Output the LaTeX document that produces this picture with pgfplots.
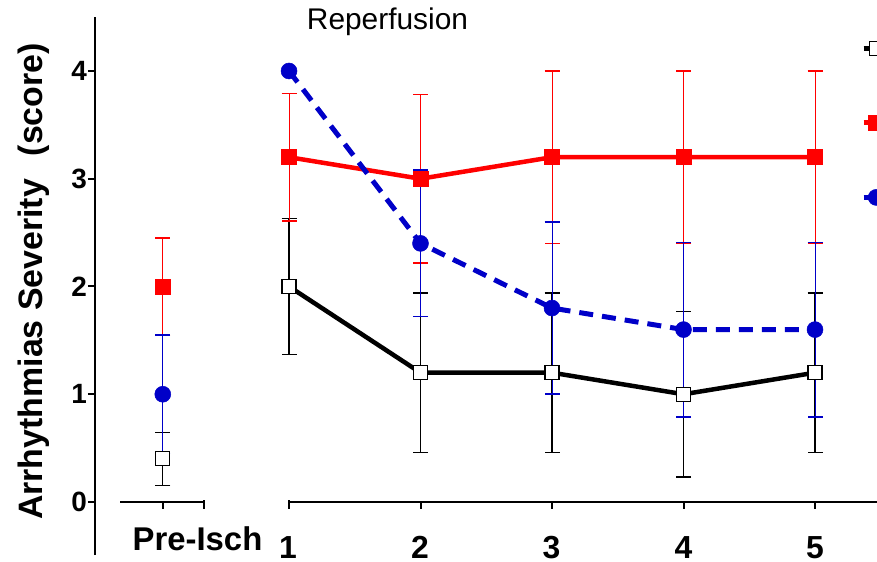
\documentclass[border=0pt]{standalone}
\usepackage{pgfplots}
\pgfplotsset{compat=1.18}
\usepackage{pgfplotstable}
\usepackage{fontspec}
\setmainfont{Liberation Sans}
\definecolor{myblue}{RGB}{0,0,200}
\definecolor{myred}{RGB}{255,0,0}

\pgfplotstableread{
x y e
0.04 0.4 0.245
}\blackpre
\pgfplotstableread{
x y e
1 2.0 0.63
2 1.2 0.74
3 1.2 0.74
4 1.0 0.77
5 1.2 0.74
}\blackrep
\pgfplotstableread{
x y e
0.04 2.0 0.45
}\redpre
\pgfplotstableread{
x y e
1 3.2 0.59
2 3.0 0.78
3 3.2 0.80
4 3.2 0.80
5 3.2 0.80
}\redrep
\pgfplotstableread{
x y e
0.04 1.0 0.55
}\bluepre
\pgfplotstableread{
x y e
1 4.0 0.0
2 2.4 0.68
3 1.8 0.80
4 1.6 0.81
5 1.6 0.81
}\bluerep

\begin{document}
\begin{tikzpicture}
\useasboundingbox (0bp,0bp) rectangle (877bp,562bp);
\clip (0bp,0bp) rectangle (877bp,562bp);
\begin{axis}[
  at={(95bp,7bp)}, anchor=south west,
  scale only axis, width=782bp, height=538bp,
  xmin=-0.4753, xmax=5.4715, ymin=-0.4919, ymax=4.5012,
  axis x line=none, axis y line=left,
  axis line style={-, line width=2bp, black},
  ytick={0,1,2,3,4}, tick align=outside, major tick length=7bp,
  ytick style={line width=2bp, black},
  /pgf/number format/assume math mode=true,
  yticklabel style={font=\bfseries\fontsize{28}{28}\selectfont, inner sep=1bp},
  clip=false,
  legend image code/.code={\draw[mark repeat=2,mark phase=2] plot coordinates {(0bp,0bp) (12.5bp,0bp) (25bp,0bp)};},
  legend style={at={(axis description cs:0.9795,0.955)}, anchor=north west,
    draw=none, fill=none, inner sep=0pt, row sep=59.5bp, nodes={inner sep=0pt}},
]
% x axis segments
\draw[line width=2bp] (axis cs:-0.285,0) -- (axis cs:0.354,0);
\draw[line width=2bp] (axis cs:1.0,0) -- (axis cs:5.6,0);
\draw[line width=2bp] (axis cs:0.354,0.015) -- (axis cs:0.354,-0.065);
\draw[line width=2bp] (axis cs:1.0,0.015) -- (axis cs:1.0,-0.065);
\draw[line width=2bp] (axis cs:0.04,0) -- (axis cs:0.04,-0.065);
\draw[line width=2bp] (axis cs:2,0) -- (axis cs:2,-0.065);
\draw[line width=2bp] (axis cs:3,0) -- (axis cs:3,-0.065);
\draw[line width=2bp] (axis cs:4,0) -- (axis cs:4,-0.065);
\draw[line width=2bp] (axis cs:5,0) -- (axis cs:5,-0.065);

% black
\addplot[black, line width=4.5bp, mark=square*, mark size=7bp,
  mark options={fill=white, draw=black, line width=1.2bp, solid},
  error bars/.cd, y dir=both, y explicit,
  error bar style={line width=1.2bp, black, solid},
  error mark options={rotate=90, mark size=7.5bp, line width=1.5bp, black}]
  table[x=x, y=y, y error=e] {\blackrep};
\addlegendentry{}
\addplot[forget plot, black, only marks, mark=square*, mark size=7bp,
  mark options={fill=white, draw=black, line width=1.2bp, solid},
  error bars/.cd, y dir=both, y explicit,
  error bar style={line width=1.2bp, black, solid},
  error mark options={rotate=90, mark size=7.5bp, line width=1.5bp, black}]
  table[x=x, y=y, y error=e] {\blackpre};

% red
\addplot[myred, line width=4.5bp, mark=square*, mark size=7.5bp,
  mark options={fill=myred, draw=myred, line width=0.5bp, solid},
  error bars/.cd, y dir=both, y explicit,
  error bar style={line width=1bp, myred, solid},
  error mark options={rotate=90, mark size=7.5bp, line width=1.5bp, myred}]
  table[x=x, y=y, y error=e] {\redrep};
\addlegendentry{}
\addplot[forget plot, myred, only marks, mark=square*, mark size=7.5bp,
  mark options={fill=myred, draw=myred, line width=0.5bp, solid},
  error bars/.cd, y dir=both, y explicit,
  error bar style={line width=1bp, myred, solid},
  error mark options={rotate=90, mark size=7.5bp, line width=1.5bp, myred}]
  table[x=x, y=y, y error=e] {\redpre};

% blue
\addplot[myblue, line width=5bp, dash pattern=on 14bp off 9bp, mark=*, mark size=8bp,
  mark options={fill=myblue, draw=myblue, line width=0.5bp, solid},
  error bars/.cd, y dir=both, y explicit,
  error bar style={line width=1bp, myblue, solid},
  error mark options={rotate=90, mark size=7.5bp, line width=1.5bp, myblue}]
  table[x=x, y=y, y error=e] {\bluerep};
\addlegendentry{}
\addplot[forget plot, myblue, only marks, mark=*, mark size=8bp,
  mark options={fill=myblue, draw=myblue, line width=0.5bp, solid},
  error bars/.cd, y dir=both, y explicit,
  error bar style={line width=1bp, myblue, solid},
  error mark options={rotate=90, mark size=7.5bp, line width=1.5bp, myblue}]
  table[x=x, y=y, y error=e] {\bluepre};
\end{axis}

\node[rotate=90, anchor=base, font=\bfseries\fontsize{34}{34}\selectfont] at (42bp,280.5bp) {Arrhythmias Severity\hspace{0.4em} (score)};
\node[anchor=base, font=\fontsize{30}{30}\selectfont] at (387.5bp,532bp) {Reperfusion};
\node[anchor=base, font=\bfseries\fontsize{33}{33}\selectfont] at (197.5bp,12bp) {Pre-Isch};
\begin{scope}[every node/.style={anchor=base, inner sep=0pt, font=\bfseries\fontsize{32}{32}\selectfont}]
\node at (288bp,3.5bp) {1};
\node at (420bp,3.5bp) {2};
\node at (551.5bp,3.5bp) {3};
\node at (683.5bp,3.5bp) {4};
\node at (815bp,3.5bp) {5};
\end{scope}
\end{tikzpicture}
\end{document}
